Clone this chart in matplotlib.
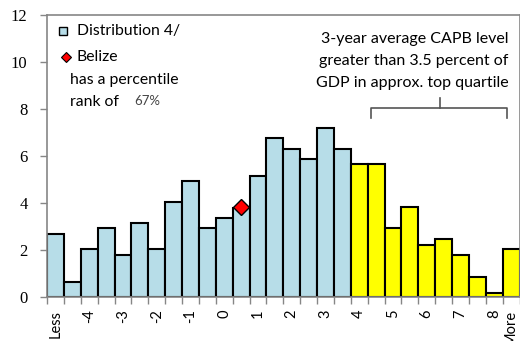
import matplotlib.pyplot as plt
import numpy as np

# bins: Less, -4.5, -4, ..., 8, More -> 28 bins
bin_labels = ["Less", "", "-4", "", "-3", "", "-2", "", "-1", "", "0", "", "1", "",
              "2", "", "3", "", "4", "", "5", "", "6", "", "7", "", "8", "More"]
counts = [2.68, 0.65, 2.03, 2.92, 1.77, 3.13, 2.03, 4.06, 4.95, 2.92, 3.37, 3.8, 5.16, 6.78,
          6.30, 5.86, 7.20, 6.30, 5.66, 5.66, 2.92, 3.82, 2.21, 2.47, 1.77, 0.86, 0.18, 2.03]
top_quartile_start = 18
belize_bin = 11
belize_value = 3.85
belize_rank = "67%"

blue = "#B7DDE8"
yellow = "#FFFF00"
gray = "#868686"
font = ["Lato", "DejaVu Sans"]

x = np.arange(len(counts))
colors = [blue if i < top_quartile_start else yellow for i in x]

fig = plt.figure(figsize=(5.2, 3.41), dpi=100)
ax = fig.add_axes([47 / 520, 1 - 297 / 341, 472.5 / 520, 282 / 341])

ax.bar(x, counts, width=1.0, color=colors, edgecolor="black", linewidth=1.5, zorder=2)
ax.plot(belize_bin, belize_value, marker="D", markersize=8, color="red",
        markeredgecolor="black", markeredgewidth=1, zorder=3)

ax.set_xlim(-0.5, len(counts) - 0.5)
ax.set_ylim(0, 12)
ax.set_yticks(range(0, 13, 2))
ax.tick_params(axis="y", length=5, width=1, color=gray, labelsize=12, pad=9)
for lab in ax.get_yticklabels():
    lab.set_family("Liberation Serif")

# ticks on bin edges, labels at bin centres
ax.set_xticks(np.arange(len(counts) + 1) - 0.5)
ax.set_xticklabels([])
ax.tick_params(axis="x", which="major", length=5, width=1, color=gray)
ax.set_xticks(x, minor=True)
ax.set_xticklabels(bin_labels, minor=True, rotation=90, fontsize=10.5, family=font)
ax.tick_params(axis="x", which="minor", length=0, pad=9)

for s in ax.spines.values():
    s.set_color(gray)
    s.set_linewidth(1.2)

# legend-ish text block
ax.plot([0.42], [11.33], marker="s", markersize=6, color=blue, markeredgecolor="black",
        markeredgewidth=1)
ax.text(1.25, 11.33, "Distribution 4/", fontsize=11.3, family=font, va="center")
ax.plot([0.6], [10.2], marker="D", markersize=5.5, color="red", markeredgecolor="black",
        markeredgewidth=0.8)
ax.text(1.25, 10.2, "Belize", fontsize=11.3, family=font, va="center")
ax.text(0.88, 9.23, "has a percentile", fontsize=11.3, family=font, va="center")
ax.text(0.88, 8.31, "rank of", fontsize=11.3, family=font, va="center")
ax.text(4.65, 8.33, belize_rank, fontsize=9.5, family=font, va="center", color="#444444")

ax.text(26.85, 10.04, "3-year average CAPB level\ngreater than 3.5 percent of\nGDP in approx. top quartile",
        ha="right", va="center", fontsize=11.5, family=font, linespacing=1.7)

# brace over the top quartile
bx0, bx1, bxm = 18.69, 26.75, 22.76
by, bend, btip = 8.04, 7.62, 8.47
ax.plot([bx0, bx0, bx1, bx1], [bend, by, by, bend], color="#555555", lw=1.2)
ax.plot([bxm, bxm], [by, btip], color="#555555", lw=1.2)

fig.savefig("out.png", dpi=100)
